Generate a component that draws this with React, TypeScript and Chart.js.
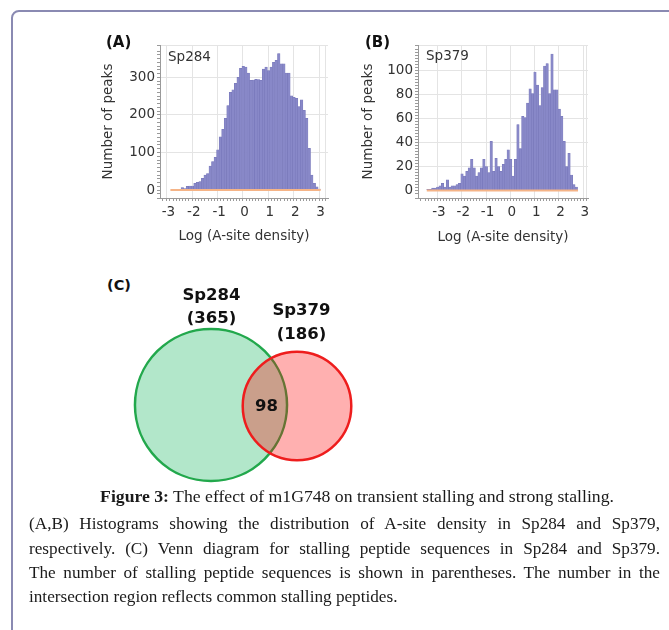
import React, { useEffect, useRef } from 'react';
import { Chart, registerables } from 'chart.js';

Chart.register(...registerables);

// ---------------- data ----------------
const binWidth = 0.1;

const sp284BinStart = -2.5;
const sp284Counts = [
  7, 4, 10, 11, 11, 18, 21, 23, 31, 40,
  44, 64, 76, 87, 107, 142, 162, 191, 225, 260,
  267, 284, 300, 324, 329, 327, 311, 292, 293, 295,
  294, 292, 322, 327, 318, 327, 340, 345, 363, 336,
  336, 311, 311, 251, 247, 244, 222, 240, 212, 191,
  111, 40, 18, 9, 3,
];
const sp284BaselineRange = [-2.92, 3.0];

const sp379BinStart = -3.5;
const sp379Counts = [
  1, 1, 2, 2, 3, 4, 6, 3, 9, 3,
  4, 4, 5, 6, 14, 12, 16, 19, 26, 19,
  12, 15, 19, 26, 20, 15, 41, 16, 27, 20,
  16, 22, 26, 34, 26, 12, 26, 55, 35, 62,
  61, 73, 85, 81, 99, 88, 71, 86, 104, 106,
  81, 114, 84, 84, 68, 62, 41, 20, 31, 13,
  5, 3,
];
const sp379BaselineRange = [-3.5, 2.72];

const xTickLabels = ['-3', '-2', '-1', '0', '1', '2', '3'];
const sp284YTickLabels = ['0', '100', '200', '300'];
const sp379YTickLabels = ['0', '20', '40', '60', '80', '100'];

const vennNames = ['Sp284', 'Sp379'];
const vennCounts = [365, 186];
const vennOverlap = 98;

// ---------------- styles ----------------
const SANS = "'DejaVu Sans', Verdana, sans-serif";
const SERIF = "'Liberation Serif', 'Times New Roman', serif";
const BAR_FILL = '#8888c8';
const BAR_EDGE = '#7676b8';
const ORANGE = '#f5b487';
const GRID = '#e4e4e4';
const AXIS = '#9a9a9a';
const TICK_TEXT = '#333333';

type HistProps = {
  counts: number[];
  binStart: number;
  baseline: number[];
  xMin: number;
  xMax: number;
  yMin: number;
  yMax: number;
  yStep: number;
  yLabels: string[];
  left: number;
  top: number;
  width: number;
  height: number;
  yScaleWidth: number;
  yTitlePad: number;
  xTitlePad: number;
};

const isLabel = (labels: string[], v: number) =>
  labels.find((l) => Math.abs(Number(l) - v) < 1e-6);

function Histogram(p: HistProps) {
  const ref = useRef<HTMLCanvasElement>(null);
  useEffect(() => {
    if (!ref.current) return;
    const bars = p.counts.map((c, i) => ({ x: p.binStart + binWidth * (i + 0.5), y: c }));
    const chart = new Chart(ref.current, {
      type: 'bar',
      data: {
        datasets: [
          {
            type: 'line',
            data: [
              { x: p.baseline[0], y: 0 },
              { x: p.baseline[1], y: 0 },
            ],
            borderColor: ORANGE,
            borderWidth: 2,
            pointRadius: 0,
          } as any,
          {
            type: 'bar',
            data: bars,
            backgroundColor: BAR_FILL,
            borderColor: BAR_EDGE,
            borderWidth: 0.5,
            borderSkipped: 'start',
            barPercentage: 1,
            categoryPercentage: 1,
          } as any,
        ],
      },
      options: {
        animation: false,
        responsive: false,
        maintainAspectRatio: false,
        events: [],
        layout: { padding: { top: 15, right: 12, left: 0, bottom: 0 } },
        plugins: { legend: { display: false }, tooltip: { enabled: false } },
        scales: {
          x: {
            type: 'linear',
            min: p.xMin,
            max: p.xMax,
            offset: false,
            afterFit: (s: any) => {
              s.height = 48;
            },
            ticks: {
              stepSize: 0.125,
              autoSkip: false,
              maxRotation: 0,
              padding: 3,
              color: TICK_TEXT,
              font: { family: SANS, size: 13.5 },
              callback: (v: any) => isLabel(xTickLabels, Number(v)) ?? '',
            },
            grid: {
              color: (ctx: any) => {
                const v = ctx.tick ? ctx.tick.value : NaN;
                if (isLabel(xTickLabels, v) !== undefined || Math.abs(v - p.xMax) < 1e-6) return GRID;
                return 'rgba(0,0,0,0)';
              },
              tickColor: AXIS,
              tickLength: 3,
            },
            border: { color: AXIS, width: 1 },
            title: {
              display: true,
              text: 'Log (A-site density)',
              color: TICK_TEXT,
              font: { family: SANS, size: 13.5 },
              padding: { top: 0, bottom: p.xTitlePad },
            },
          },
          y: {
            type: 'linear',
            min: p.yMin,
            max: p.yMax,
            afterFit: (s: any) => {
              s.width = p.yScaleWidth;
            },
            ticks: {
              stepSize: p.yStep,
              autoSkip: false,
              padding: 2,
              color: TICK_TEXT,
              font: { family: SANS, size: 13.5 },
              callback: (v: any) => isLabel(p.yLabels, Number(v)) ?? '',
            },
            grid: {
              color: (ctx: any) => {
                const v = ctx.tick ? ctx.tick.value : NaN;
                if ((isLabel(p.yLabels, v) !== undefined && v > 0) || Math.abs(v - p.yMax) < 1e-6) return GRID;
                return 'rgba(0,0,0,0)';
              },
              tickColor: AXIS,
              tickLength: 3,
            },
            border: { color: AXIS, width: 1 },
            title: {
              display: true,
              text: 'Number of peaks',
              color: TICK_TEXT,
              font: { family: SANS, size: 13.5 },
              padding: { top: p.yTitlePad, bottom: 0 },
            },
          },
        },
      } as any,
    });
    return () => chart.destroy();
  }, []);
  return (
    <canvas
      ref={ref}
      width={p.width}
      height={p.height}
      style={{ position: 'absolute', left: p.left, top: p.top, width: p.width, height: p.height }}
    />
  );
}

function Venn() {
  const ref = useRef<HTMLCanvasElement>(null);
  useEffect(() => {
    if (!ref.current) return;
    const pxPerSqrt = 3.98;
    const centersX = [111, 197];
    const centersY = [105, 106];
    const chart = new Chart(ref.current, {
      type: 'bubble',
      data: {
        datasets: [
          {
            data: vennCounts.map((c, i) => ({ x: centersX[i], y: centersY[i], r: pxPerSqrt * Math.sqrt(c) })),
            backgroundColor: ['rgba(0,176,80,0.30)', 'rgba(255,0,0,0.31)'],
            borderColor: ['#22a84c', '#ee1d1d'],
            borderWidth: 2.5,
            clip: false,
          },
        ],
      },
      options: {
        animation: false,
        responsive: false,
        maintainAspectRatio: false,
        events: [],
        layout: { padding: 0, autoPadding: false },
        plugins: { legend: { display: false }, tooltip: { enabled: false } },
        scales: {
          x: { type: 'linear', min: 0, max: 300, display: false },
          y: { type: 'linear', min: 0, max: 200, reverse: true, display: false },
        },
      } as any,
    });
    return () => chart.destroy();
  }, []);
  return (
    <canvas
      ref={ref}
      width={300}
      height={200}
      style={{ position: 'absolute', left: 100, top: 300, width: 300, height: 200 }}
    />
  );
}

type LabelProps = {
  x: number;
  y: number;
  text: React.ReactNode;
  size: number;
  family?: string;
  weight?: number | string;
  color?: string;
  center?: boolean;
};

function Label({ x, y, text, size, family = SANS, weight = 'normal', color = '#111', center }: LabelProps) {
  const style: React.CSSProperties = {
    position: 'absolute',
    top: y - 0.5 * size,
    fontSize: size,
    lineHeight: `${size}px`,
    fontFamily: family,
    fontWeight: weight as any,
    color,
    whiteSpace: 'nowrap',
  };
  if (center) {
    style.left = x - 400;
    style.width = 800;
    style.textAlign = 'center';
  } else {
    style.left = x;
  }
  return <div style={style}>{text}</div>;
}

const captionLines = [
  '(A,B) Histograms showing the distribution of A-site density in Sp284 and Sp379,',
  'respectively. (C) Venn diagram for stalling peptide sequences in Sp284 and Sp379.',
  'The number of stalling peptide sequences is shown in parentheses. The number in the',
  'intersection region reflects common stalling peptides.',
];
const captionLineY = [524, 549, 573, 597];

export default function App() {
  return (
    <div
      style={{
        position: 'absolute',
        left: 0,
        top: 0,
        width: 669,
        height: 630,
        overflow: 'hidden',
        background: '#fff',
      }}
    >
      <div
        style={{
          position: 'absolute',
          left: 11,
          top: 10,
          width: 800,
          height: 800,
          border: '2px solid #8a8ab2',
          borderRadius: 8,
          boxSizing: 'border-box',
        }}
      />
      <Histogram
        counts={sp284Counts}
        binStart={sp284BinStart}
        baseline={sp284BaselineRange}
        xMin={-3.33}
        xMax={3.29}
        yMin={-21}
        yMax={386}
        yStep={10}
        yLabels={sp284YTickLabels}
        left={90}
        top={30}
        width={250}
        height={216}
        yScaleWidth={70}
        yTitlePad={10}
        xTitlePad={1}
      />
      <Histogram
        counts={sp379Counts}
        binStart={sp379BinStart}
        baseline={sp379BaselineRange}
        xMin={-3.86}
        xMax={3.13}
        yMin={-6.2}
        yMax={121.5}
        yStep={2.5}
        yLabels={sp379YTickLabels}
        left={350}
        top={30}
        width={250}
        height={216}
        yScaleWidth={68}
        yTitlePad={10}
        xTitlePad={0}
      />
      <Label x={106} y={42.5} text="(A)" size={15} weight="bold" />
      <Label x={365} y={42} text="(B)" size={15} weight="bold" />
      <Label x={168} y={56.5} text="Sp284" size={13.5} color="#333" />
      <Label x={426} y={56} text="Sp379" size={13.5} color="#333" />

      <Venn />
      <Label x={107} y={285} text="(C)" size={14.5} weight="bold" />
      <Label x={211.5} y={295} text={vennNames[0]} size={16.5} weight="bold" center />
      <Label x={211.5} y={318} text={`(${vennCounts[0]})`} size={16.5} weight="bold" center />
      <Label x={301.5} y={310} text={vennNames[1]} size={16.5} weight="bold" center />
      <Label x={301.5} y={334} text={`(${vennCounts[1]})`} size={16.5} weight="bold" center />
      <Label x={266.5} y={406} text={String(vennOverlap)} size={16.5} weight="bold" center />

      <Label
        x={357}
        y={497}
        size={17.7}
        family={SERIF}
        color="#1a1a1a"
        center
        text={
          <>
            <b>Figure 3:</b> The effect of m1G748 on transient stalling and strong stalling.
          </>
        }
      />
      {captionLines.map((line, i) => (
        <div
          key={i}
          style={{
            position: 'absolute',
            left: 29,
            width: i < captionLines.length - 1 ? 631 : 640,
            top: captionLineY[i] - 8.6,
            fontFamily: SERIF,
            fontSize: 17.2,
            lineHeight: '17.2px',
            color: '#1a1a1a',
            whiteSpace: 'nowrap',
            textAlign: i < captionLines.length - 1 ? 'justify' : 'left',
            textAlignLast: i < captionLines.length - 1 ? 'justify' : 'left',
          }}
        >
          {line}
        </div>
      ))}
    </div>
  );
}
